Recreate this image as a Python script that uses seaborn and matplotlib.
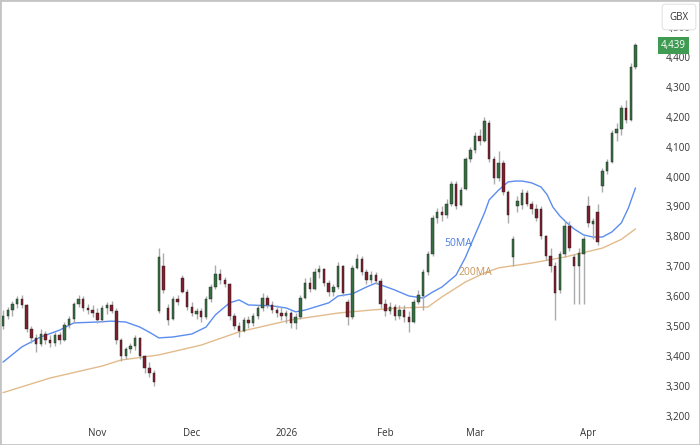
import numpy as np
import pandas as pd
import matplotlib
matplotlib.use("Agg")
import matplotlib.pyplot as plt
import matplotlib.transforms as mtransforms
import seaborn as sns

sns.set_theme(style="white")
plt.rcParams['font.family'] = ['Open Sans', 'DejaVu Sans']

# daily candles (GBX), oldest first
opens = [3500, 3535, 3555, 3575, 3590, 3570, 3490, 3460, 3440, 3475,
         3455, 3445, 3470, 3455, 3505, 3525, 3575, 3590, 3560, 3555,
         3545, 3520, 3560, 3570, 3550, 3455, 3400, 3425, 3435, 3460,
         3400, 3360, 3345, 3550, 3700, 3560, 3525, 3590, 3660, 3615,
         3565, 3540, 3550, 3530, 3590, 3630, 3675, 3655, 3640, 3535,
         3500, 3485, 3520, 3510, 3535, 3560, 3595, 3570, 3555, 3545,
         3535, 3545, 3510, 3530, 3595, 3645, 3625, 3680, 3690, 3645,
         3615, 3630, 3700, 3580, 3530, 3695, 3725, 3680, 3655, 3670,
         3650, 3575, 3550, 3565, 3535, 3555, 3530, 3515, 3580, 3600,
         3680, 3740, 3860, 3880, 3870, 3910, 3975, 3905, 3960, 4060,
         4090, 4135, 4120, 4180, 4060, 3995, 4045, 3950, 3730, 3900,
         3905, 3945, 3910, 3890, 3890, 3800, 3735, 3700, 3620, 3740,
         3835, 3730, 3700, 3740, 3900, 3840, 3880, 3970, 4020, 4050,
         4145, 4160, 4230, 4190, 4365]
highs = [3555, 3565, 3585, 3600, 3605, 3575, 3500, 3475, 3490, 3485,
         3470, 3480, 3480, 3515, 3535, 3580, 3605, 3600, 3575, 3570,
         3560, 3570, 3580, 3585, 3560, 3460, 3430, 3445, 3470, 3465,
         3405, 3380, 3355, 3760, 3745, 3575, 3600, 3605, 3670, 3625,
         3580, 3560, 3560, 3600, 3640, 3705, 3690, 3665, 3645, 3545,
         3515, 3530, 3535, 3545, 3570, 3610, 3605, 3585, 3570, 3565,
         3555, 3550, 3545, 3605, 3660, 3665, 3695, 3705, 3695, 3655,
         3640, 3715, 3705, 3590, 3705, 3740, 3735, 3690, 3685, 3680,
         3660, 3590, 3580, 3575, 3570, 3570, 3550, 3590, 3620, 3690,
         3750, 3870, 3895, 3900, 3925, 3985, 3985, 3965, 4065, 4100,
         4150, 4160, 4200, 4190, 4070, 4085, 4055, 3955, 3800, 3935,
         3960, 3955, 3920, 3910, 3900, 3805, 3760, 3715, 3750, 3850,
         3850, 3740, 3760, 3800, 3935, 3860, 3910, 4030, 4060, 4155,
         4180, 4240, 4255, 4380, 4445]
lows = [3490, 3525, 3535, 3560, 3560, 3480, 3445, 3415, 3435, 3440,
        3430, 3435, 3440, 3450, 3495, 3515, 3565, 3550, 3540, 3530,
        3510, 3515, 3540, 3545, 3440, 3385, 3390, 3410, 3420, 3390,
        3345, 3330, 3300, 3545, 3610, 3505, 3520, 3570, 3610, 3555,
        3535, 3525, 3515, 3525, 3580, 3625, 3640, 3630, 3520, 3490,
        3465, 3480, 3495, 3500, 3525, 3550, 3560, 3545, 3530, 3520,
        3510, 3495, 3490, 3525, 3590, 3615, 3620, 3660, 3635, 3600,
        3600, 3625, 3600, 3505, 3525, 3690, 3670, 3640, 3645, 3640,
        3560, 3535, 3540, 3520, 3525, 3515, 3480, 3510, 3575, 3555,
        3670, 3735, 3845, 3850, 3860, 3900, 3890, 3900, 3955, 4050,
        4080, 4105, 4115, 4050, 3975, 3985, 3940, 3845, 3700, 3880,
        3890, 3900, 3875, 3850, 3790, 3720, 3680, 3520, 3610, 3730,
        3750, 3575, 3575, 3575, 3830, 3790, 3770, 3950, 4010, 4045,
        4120, 4140, 4180, 4185, 4360]
closes = [3535, 3555, 3575, 3590, 3570, 3490, 3460, 3440, 3475, 3455,
          3445, 3470, 3455, 3505, 3525, 3575, 3590, 3560, 3555, 3545,
          3520, 3560, 3570, 3550, 3455, 3400, 3425, 3435, 3460, 3400,
          3360, 3345, 3315, 3730, 3620, 3520, 3590, 3580, 3615, 3565,
          3545, 3550, 3530, 3590, 3630, 3675, 3655, 3640, 3535, 3500,
          3485, 3520, 3510, 3535, 3560, 3595, 3570, 3555, 3545, 3535,
          3545, 3510, 3530, 3595, 3645, 3625, 3680, 3690, 3645, 3615,
          3630, 3700, 3610, 3530, 3695, 3725, 3680, 3655, 3670, 3650,
          3575, 3550, 3565, 3535, 3555, 3530, 3515, 3580, 3605, 3680,
          3740, 3860, 3880, 3870, 3910, 3975, 3900, 3955, 4060, 4090,
          4135, 4120, 4185, 4060, 3995, 4045, 3950, 3870, 3790, 3920,
          3945, 3910, 3890, 3860, 3800, 3735, 3700, 3610, 3740, 3835,
          3760, 3700, 3745, 3790, 3845, 3850, 3780, 4020, 4050, 4145,
          4160, 4230, 4190, 4365, 4439]

# moving averages read at selected bars
ma50_bar = [0, 4, 8, 12, 15, 20, 23, 26, 29, 31, 33, 36, 40, 43, 45, 48, 50,
            52, 57, 60, 62, 64, 69, 71, 74, 77, 79, 83, 86, 89, 91, 93, 96,
            98, 100, 102, 103, 105, 107, 108.5, 110, 112, 114, 115.3, 116.5,
            118, 119.5, 121, 123, 125, 127, 129, 131, 132.5, 134]
ma50_val = [3380, 3431, 3464, 3487, 3511, 3514, 3517, 3514, 3497, 3480, 3461,
            3464, 3474, 3497, 3538, 3578, 3588, 3571, 3568, 3561, 3548, 3554,
            3578, 3601, 3608, 3631, 3644, 3621, 3601, 3594, 3614, 3631, 3671,
            3731, 3805, 3878, 3922, 3955, 3982, 3985, 3985, 3979, 3965, 3939,
            3898, 3868, 3845, 3825, 3805, 3798, 3798, 3815, 3845, 3895, 3962]
ma200_bar = [0, 10, 21, 25, 33, 42, 50, 61, 71, 78, 84, 90, 93, 98, 102, 105,
             112, 119, 127, 131, 134]
ma200_val = [3278, 3327, 3367, 3387, 3404, 3437, 3481, 3521, 3544, 3554, 3561,
             3564, 3598, 3648, 3678, 3695, 3711, 3731, 3761, 3790, 3825]

month_pos = [20, 40, 60, 81, 100, 124]
month_labels = ['Nov', 'Dec', '2026', 'Feb', 'Mar', 'Apr']
price_ticks = list(range(3200, 4600, 100))
last_price = 4439

df = pd.DataFrame({'open': opens, 'high': highs, 'low': lows, 'close': closes})
df['bar'] = np.arange(len(df))
df['up'] = df['close'] >= df['open']

fig = plt.figure(figsize=(7.0, 4.45), dpi=100)
ax = fig.add_axes([0, 25 / 445, 657 / 700, 420 / 445])

# wicks then bodies
ax.vlines(df['bar'], df['low'], df['high'], color='#ababab', lw=1, zorder=2)
body_col = np.where(df['up'], '#356f41', '#7f1e2c')
body_h = (df['close'] - df['open']).abs().clip(lower=3)
ax.bar(df['bar'], body_h, bottom=df[['open', 'close']].min(axis=1),
       width=0.52, color=body_col, edgecolor='#222222', lw=0.3, zorder=3)

sns.lineplot(x=ma50_bar, y=ma50_val, ax=ax, color='#5b8df0', lw=1.0,
             sort=False, estimator=None, zorder=1)
sns.lineplot(x=ma200_bar, y=ma200_val, ax=ax, color='#e2bb8c', lw=1.0,
             sort=False, estimator=None, zorder=1)

ax.text(96.4, 3778, '50MA', color='#4a7de0', fontsize=7.5, ha='center', va='center')
ax.text(100, 3681, '200MA', color='#c9965a', fontsize=7.5, ha='center', va='center')

ax.set_xlim(-0.64, 138.56)
ax.set_ylim(3186.6, 4590)
for s in ax.spines.values():
    s.set_visible(False)
ax.grid(False)

ax.yaxis.tick_right()
ax.set_yticks(price_ticks)
ax.set_yticklabels([f'{v:,}' for v in price_ticks])
ax.tick_params(axis='y', length=0, pad=6, labelsize=7, colors='#333333')
ax.set_xticks(month_pos)
ax.set_xticklabels(month_labels)
ax.tick_params(axis='x', length=0, pad=6, labelsize=7, colors='#333333')

# last price tag
trans = mtransforms.blended_transform_factory(ax.transAxes, ax.transData)
ax.text(1.006, last_price, f'{last_price:,}', transform=trans, color='white',
        fontsize=7, ha='left', va='center', clip_on=False, zorder=5,
        bbox=dict(boxstyle='square,pad=0.3', fc='#3e9b51', ec='none'))

fig.text(679 / 700, 1 - 17 / 445, 'GBX', ha='center', va='center', fontsize=7,
         color='#333333', zorder=10,
         bbox=dict(boxstyle='round,pad=0.75,rounding_size=0.35', fc='white',
                   ec='#e3e3e3', lw=0.8))

fig.add_artist(plt.Rectangle((0, 0), 1, 1, transform=fig.transFigure,
                             fill=False, ec='#c4c4c4', lw=2))

fig.savefig('out.png', dpi=100)
